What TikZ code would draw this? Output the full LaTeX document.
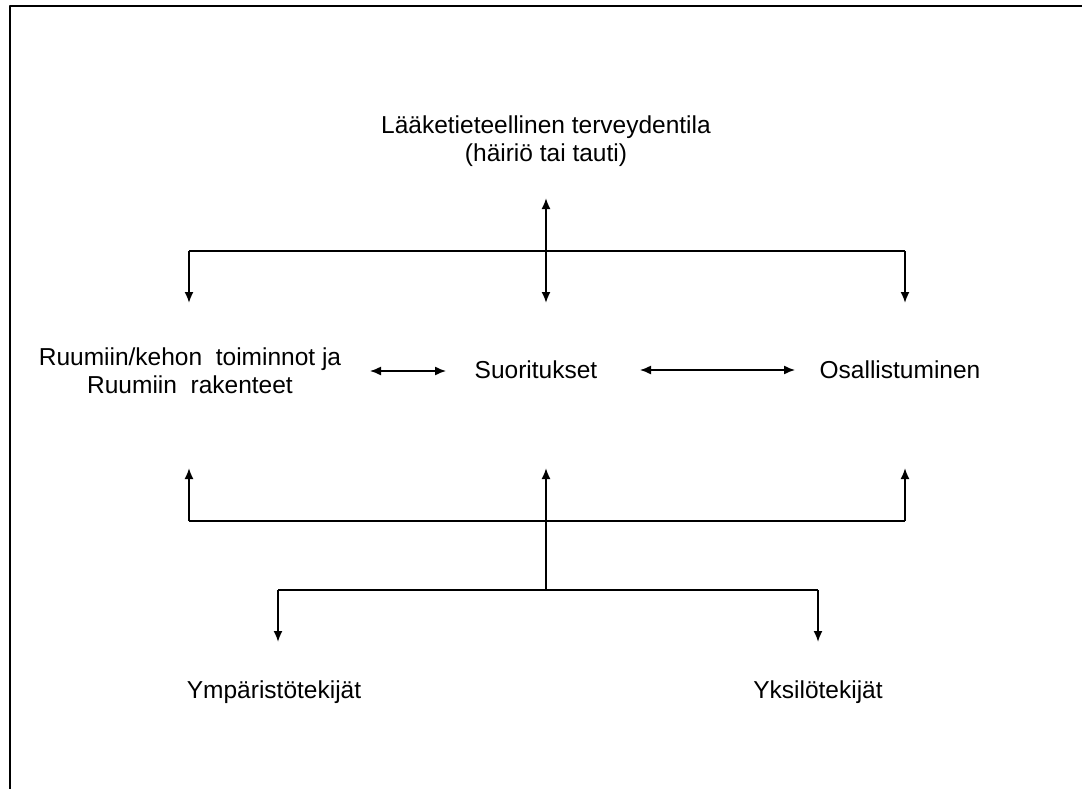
\documentclass[tikz,border=0pt]{standalone}
\usepackage{fontspec}
\setmainfont{Liberation Sans}
\usetikzlibrary{arrows.meta}
\begin{document}
\begin{tikzpicture}[x=1pt,y=-1pt,line join=round,>={Latex[length=11pt,width=9pt]},line width=1.8pt,
  lbl/.style={font=\fontsize{24.5}{28}\selectfont,align=center,inner sep=0pt}]
\useasboundingbox (0,0) rectangle (1082,789);
\draw[line width=2.6pt] (10,789)--(10,6)--(1082,6);
% texts
\node[lbl] (tila) at (546,141) {Lääketieteellinen terveydentila\\(häiriö tai tauti)};
\node[lbl] (keho) at (190,371) {Ruumiin/kehon~ toiminnot ja\\Ruumiin~ rakenteet};
\node[lbl] (suor) at (536,370) {Suoritukset};
\node[lbl] (osal) at (900,370) {Osallistuminen};
\node[lbl] (ymp) at (274,692) {Ympäristötekijät};
\node[lbl] (yks) at (818,692) {Yksilötekijät};
% top bracket
\coordinate (ylos) at (546,198);
\coordinate (alas) at (546,303);
\draw[<->] (ylos)--(alas);
\draw (189,251)--(905,251);
\foreach \x in {189,905} \draw[->] (\x,251)--(\x,303);
% side arrows
\coordinate (k1) at (370,371);
\coordinate (k2) at (446,371);
\coordinate (s1) at (640,370);
\coordinate (s2) at (795,370);
\draw[<->,line width=1.4pt] (k1)--(k2);
\draw[<->,line width=1.4pt] (s1)--(s2);
% bottom brackets
\coordinate (kanta) at (546,590);
\foreach \x in {189,546,905} \draw[->] (\x,521)--(\x,468);
\draw (189,521)--(905,521);
\draw (kanta)--(546,521);
\foreach \x in {278,818} \draw[->] (\x,590)--(\x,642);
\draw (278,590)--(818,590);
\end{tikzpicture}
\end{document}
